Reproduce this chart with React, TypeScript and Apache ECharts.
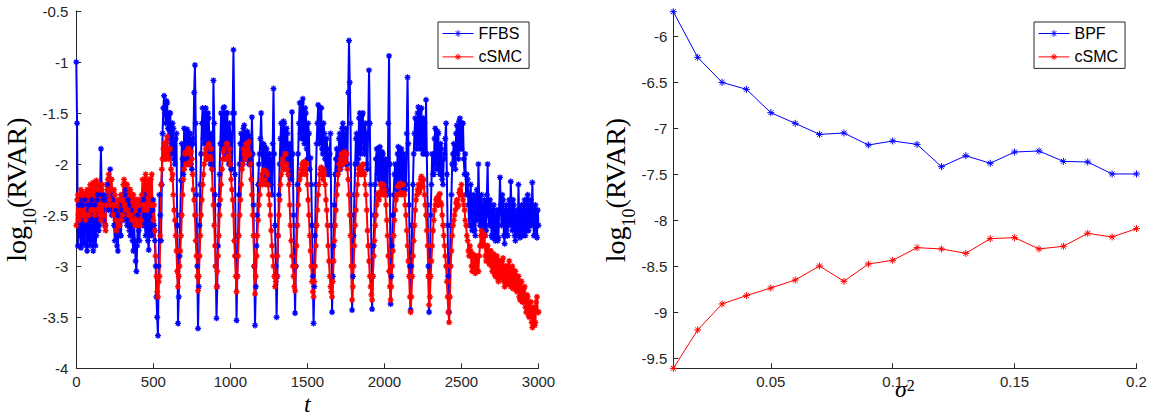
import React, { useEffect, useRef } from "react";
import * as echarts from "echarts";

// ---------- Left panel: log10(RVAR) over time t ----------
// values at t = 0, 10, 20, ..., 3000
const T_STEP = 10;
const ffbs = [
  -1.0, -2.8, -2.35, -2.82, -2.4, -2.75, -2.3, -2.85, -2.45, -2.8,
  -2.35, -2.85, -2.4, -2.7, -2.3, -2.6, -1.85, -2.55, -2.3, -2.6,
  -2.2, -2.45, -2.05, -2.5, -2.3, -2.75, -2.5, -2.85, -2.4, -2.7,
  -2.3, -2.55, -2.25, -2.6, -2.4, -2.7, -2.5, -2.85, -2.75, -3.05,
  -2.5, -2.75, -2.35, -2.6, -2.3, -2.7, -2.45, -2.84, -2.4, -2.7,
  -2.35, -2.75, -3.3, -3.68, -2.3, -2.75, -1.7, -1.33, -1.6, -1.4,
  -1.75, -1.5, -1.9, -1.65, -2.0, -1.7, -3.56, -2.9, -2.16, -1.95,
  -1.65, -1.95, -1.66, -2.0, -1.7, -2.05, -1.8, -1.03, -2.3, -3.61,
  -2.6, -1.9, -1.45, -1.8, -1.45, -1.85, -1.55, -2.0, -1.75, -1.18,
  -2.3, -3.51, -2.8, -2.1, -1.5, -1.85, -1.44, -1.9, -1.5, -2.0,
  -1.7, -2.05, -0.88, -2.1, -3.53, -2.7, -2.0, -1.7, -2.0, -1.62,
  -1.95, -1.68, -2.0, -1.75, -1.54, -2.4, -3.58, -2.8, -2.2, -1.9,
  -1.5, -2.1, -1.82, -2.15, -1.9, -2.2, -1.95, -2.3, -1.26, -2.6,
  -3.5, -2.7, -2.0, -1.6, -1.95, -1.6, -1.95, -1.7, -2.1, -1.9,
  -1.49, -2.5, -3.46, -2.6, -1.9, -1.4, -1.75, -1.36, -1.8, -1.5,
  -1.95, -1.7, -1.94, -2.6, -3.56, -2.7, -1.8, -1.42, -1.8, -1.45,
  -1.9, -1.7, -2.05, -1.85, -2.1, -1.7, -3.45, -2.8, -2.1, -1.85,
  -2.05, -1.7, -2.0, -1.6, -1.95, -1.65, -2.0, -0.79, -1.6, -3.43,
  -2.7, -2.0, -1.7, -1.95, -1.5, -1.85, -1.5, -1.9, -1.7, -2.05,
  -1.08, -2.2, -3.42, -2.8, -2.2, -1.85, -2.15, -1.83, -2.2, -1.9,
  -2.25, -2.0, -2.3, -0.94, -3.37, -2.8, -2.3, -2.0, -2.25, -1.83,
  -2.2, -1.85, -2.25, -1.95, -2.2, -1.15, -2.4, -3.43, -2.6, -1.9,
  -1.55, -1.85, -1.44, -1.85, -1.45, -1.9, -1.6, -1.37, -2.4, -3.45,
  -2.5, -1.9, -2.1, -1.65, -2.05, -1.7, -2.1, -1.85, -2.2, -1.9,
  -1.6, -2.6, -3.45, -2.6, -2.0, -1.8, -2.05, -1.62, -1.95, -1.55,
  -1.85, -1.6, -2.1, -2.3, -2.15, -2.6, -2.2, -2.65, -2.3, -2.7,
  -2.25, -2.0, -2.6, -2.3, -2.7, -2.35, -2.65, -2.0, -2.6, -2.4,
  -2.72, -2.4, -2.75, -2.45, -2.72, -2.13, -2.6, -2.35, -2.78, -2.4,
  -2.7, -2.35, -2.17, -2.65, -2.4, -2.75, -2.45, -2.2, -2.72, -2.4,
  -2.7, -2.35, -2.65, -2.3, -2.6, -2.35, -2.18, -2.7, -2.4, -2.72,
  -2.6,
];
// values at t = 5, 15, 25, ..., 2995
const ffbsMid = [
  -1.6, -2.4, -2.7, -2.4, -2.78, -2.35, -2.8, -2.4, -2.75, -2.4,
  -2.75, -2.45, -2.8, -2.35, -2.65, -2.2, -2.3, -2.35, -2.6, -2.35,
  -2.4, -2.15, -2.4, -2.35, -2.6, -2.45, -2.8, -2.5, -2.7, -2.45,
  -2.5, -2.3, -2.5, -2.35, -2.65, -2.45, -2.75, -2.6, -2.95, -2.8,
  -2.65, -2.45, -2.55, -2.35, -2.6, -2.5, -2.75, -2.5, -2.65, -2.45,
  -2.6, -3.0, -3.5, -3.0, -2.5, -2.2, -1.45, -1.5, -1.38, -1.65,
  -1.5, -1.8, -1.6, -1.95, -1.75, -2.6, -3.3, -2.5, -1.8, -2.1,
  -1.9, -1.7, -1.95, -1.7, -2.0, -1.75, -1.3, -1.6, -3.0, -3.2,
  -2.2, -1.6, -1.75, -1.5, -1.8, -1.5, -1.9, -1.7, -2.05, -1.6,
  -3.0, -3.2, -2.4, -1.8, -1.8, -1.45, -1.85, -1.5, -1.95, -1.6,
  -2.05, -1.5, -1.5, -2.9, -3.1, -2.3, -1.8, -1.95, -1.65, -1.95,
  -1.7, -1.95, -1.72, -2.0, -1.9, -3.0, -3.2, -2.5, -2.0, -1.75,
  -1.9, -1.8, -2.1, -1.85, -2.15, -1.9, -2.2, -1.8, -1.9, -3.0,
  -3.1, -2.3, -1.75, -1.9, -1.58, -1.9, -1.65, -2.05, -1.8, -2.15,
  -1.9, -3.0, -3.0, -2.2, -1.6, -1.7, -1.4, -1.75, -1.45, -1.85,
  -1.6, -2.05, -2.2, -3.1, -3.2, -2.2, -1.6, -1.75, -1.45, -1.85,
  -1.6, -1.95, -1.75, -2.1, -1.9, -2.6, -3.1, -2.4, -1.95, -2.1,
  -1.75, -2.05, -1.65, -2.0, -1.7, -2.0, -1.3, -1.2, -2.5, -3.1,
  -2.3, -1.75, -2.0, -1.55, -1.9, -1.52, -1.85, -1.6, -2.0, -1.6,
  -1.6, -2.8, -3.1, -2.5, -1.95, -2.1, -1.85, -2.15, -1.88, -2.2,
  -1.95, -2.25, -1.6, -2.0, -3.1, -2.5, -2.1, -2.2, -1.9, -2.2,
  -1.87, -2.2, -1.9, -2.25, -1.7, -1.8, -3.0, -3.0, -2.2, -1.7,
  -1.8, -1.5, -1.8, -1.46, -1.85, -1.55, -1.9, -1.9, -3.0, -3.1,
  -2.2, -2.1, -1.75, -2.0, -1.68, -2.05, -1.8, -2.15, -1.95, -1.75,
  -2.1, -3.1, -3.0, -2.3, -1.9, -2.0, -1.7, -1.9, -1.58, -1.85,
  -1.6, -1.95, -1.9, -2.1, -2.4, -2.3, -2.6, -2.35, -2.65, -2.35,
  -2.55, -2.35, -2.4, -2.65, -2.4, -2.7, -2.3, -2.5, -2.35, -2.7,
  -2.45, -2.7, -2.5, -2.75, -2.45, -2.4, -2.3, -2.7, -2.45, -2.7,
  -2.45, -2.6, -2.45, -2.35, -2.7, -2.5, -2.7, -2.55, -2.45, -2.7,
  -2.4, -2.7, -2.35, -2.65, -2.4, -2.6, -2.5, -2.45, -2.7, -2.45,
];
// values at t = 0, 10, ..., 3000
const csmcTime = [
  -2.6, -2.3, -2.55, -2.25, -2.5, -2.3, -2.55, -2.25, -2.5, -2.2,
  -2.45, -2.18, -2.5, -2.16, -2.45, -2.2, -2.55, -2.2, -2.5, -2.65,
  -2.25, -2.1, -2.4, -2.15, -2.5, -2.3, -2.65, -2.35, -2.6, -2.3,
  -2.5, -2.15, -2.45, -2.2, -2.5, -2.25, -2.55, -2.3, -2.6, -2.35,
  -2.6, -2.4, -2.55, -2.15, -2.45, -2.1, -2.45, -2.15, -2.4, -2.1,
  -2.55, -2.65, -3.1, -3.3, -3.1, -2.2, -1.95, -1.8, -1.95, -1.73,
  -1.95, -1.85, -2.15, -2.3, -2.55, -2.85, -3.2, -3.0, -2.7, -2.3,
  -2.05, -1.88, -2.0, -1.85, -2.0, -1.95, -2.25, -2.5, -2.9, -3.24,
  -2.9, -2.5, -2.2, -2.0, -1.85, -1.95, -1.8, -1.95, -2.05, -2.4,
  -2.8, -3.2, -2.9, -2.5, -2.2, -1.95, -1.85, -1.95, -1.8, -1.95,
  -2.0, -2.25, -2.5, -2.9, -3.25, -2.9, -2.5, -2.2, -2.0, -1.9,
  -1.8, -1.92, -1.78, -2.0, -2.3, -2.7, -3.27, -2.9, -2.55, -2.3,
  -2.15, -2.2, -2.06, -2.2, -2.1, -2.3, -2.5, -2.8, -3.0, -3.2,
  -3.1, -2.7, -2.35, -2.1, -1.95, -2.05, -1.9, -2.05, -2.2, -2.6,
  -2.9, -3.1, -3.24, -2.8, -2.4, -2.15, -2.05, -2.1, -1.98, -2.1,
  -2.2, -2.5, -2.85, -3.15, -3.3, -3.0, -2.6, -2.3, -2.1, -2.03,
  -2.15, -2.1, -2.35, -2.6, -2.95, -3.2, -3.3, -2.95, -2.6, -2.3,
  -2.1, -2.05, -1.9, -2.0, -1.88, -1.98, -2.05, -2.3, -2.7, -3.33,
  -3.0, -2.6, -2.3, -2.1, -2.03, -2.1, -2.0, -2.1, -2.3, -2.65,
  -2.95, -3.2, -3.33, -2.9, -2.6, -2.4, -2.28, -2.3, -2.19, -2.3,
  -2.25, -2.4, -2.7, -3.05, -3.33, -3.0, -2.7, -2.45, -2.3, -2.3,
  -2.19, -2.3, -2.2, -2.3, -2.5, -2.8, -3.1, -3.45, -3.1, -2.75,
  -2.45, -2.3, -2.2, -2.25, -2.12, -2.22, -2.3, -2.5, -2.8, -3.38,
  -3.1, -2.8, -2.55, -2.4, -2.33, -2.4, -2.29, -2.4, -2.6, -2.8,
  -3.0, -3.3, -3.55, -3.0, -2.7, -2.55, -2.45, -2.35, -2.4, -2.25,
  -2.2, -2.35, -2.45, -2.6, -2.75, -2.9, -2.85, -3.05, -2.9, -3.07,
  -2.9, -3.05, -2.8, -2.65, -2.8, -2.7, -2.95, -2.8, -2.98, -2.85,
  -3.05, -2.88, -3.1, -2.9, -3.15, -2.95, -3.1, -2.92, -3.2, -3.0,
  -3.15, -2.95, -3.2, -3.0, -3.2, -3.05, -3.25, -3.1, -3.33, -3.15,
  -3.35, -3.2, -3.45, -3.3, -3.5, -3.35, -3.6, -3.4, -3.55, -3.3,
  -3.45,
];
// values at t = 5, 15, ..., 2995
const csmcTimeMid = [
  -2.35, -2.5, -2.3, -2.5, -2.28, -2.5, -2.3, -2.5, -2.25, -2.45,
  -2.2, -2.45, -2.2, -2.45, -2.2, -2.5, -2.25, -2.5, -2.6, -2.4,
  -2.15, -2.35, -2.15, -2.4, -2.25, -2.55, -2.4, -2.6, -2.35, -2.55,
  -2.2, -2.4, -2.2, -2.45, -2.25, -2.5, -2.3, -2.55, -2.35, -2.55,
  -2.35, -2.6, -2.3, -2.4, -2.15, -2.4, -2.2, -2.4, -2.15, -2.4,
  -2.4, -2.9, -3.25, -3.15, -2.7, -2.05, -1.85, -1.95, -1.78, -1.9,
  -1.85, -2.05, -2.1, -2.45, -2.7, -3.05, -3.1, -2.85, -2.5, -2.15,
  -1.9, -2.0, -1.85, -1.98, -1.88, -2.1, -2.35, -2.75, -3.1, -3.1,
  -2.7, -2.35, -2.1, -1.9, -1.95, -1.82, -1.92, -1.85, -2.25, -2.6,
  -3.0, -3.05, -2.7, -2.35, -2.05, -1.88, -1.95, -1.8, -1.92, -1.85,
  -2.15, -2.35, -2.75, -3.1, -3.1, -2.7, -2.35, -2.05, -1.85, -1.95,
  -1.9, -1.8, -1.9, -2.15, -2.5, -3.0, -3.1, -2.7, -2.4, -2.2,
  -2.1, -2.06, -2.15, -2.08, -2.2, -2.4, -2.65, -2.9, -3.1, -3.15,
  -2.9, -2.5, -2.2, -2.0, -2.05, -1.9, -2.0, -2.1, -2.4, -2.75,
  -3.0, -3.2, -3.0, -2.6, -2.25, -2.1, -2.0, -1.98, -2.05, -2.0,
  -2.35, -2.7, -3.0, -3.25, -3.15, -2.8, -2.45, -2.2, -2.05, -2.1,
  -2.05, -2.2, -2.45, -2.8, -3.1, -3.25, -3.15, -2.75, -2.45, -2.2,
  -2.0, -1.95, -2.0, -1.9, -1.95, -1.9, -2.15, -2.5, -3.0, -3.2,
  -2.8, -2.45, -2.2, -2.05, -2.1, -2.02, -2.08, -2.2, -2.45, -2.8,
  -3.1, -3.28, -3.1, -2.75, -2.5, -2.3, -2.35, -2.2, -2.28, -2.2,
  -2.3, -2.55, -2.9, -3.2, -3.2, -2.85, -2.55, -2.35, -2.22, -2.2,
  -2.28, -2.2, -2.28, -2.4, -2.65, -2.95, -3.3, -3.3, -2.9, -2.6,
  -2.35, -2.25, -2.28, -2.15, -2.2, -2.15, -2.4, -2.65, -3.1, -3.3,
  -2.95, -2.65, -2.45, -2.35, -2.4, -2.3, -2.38, -2.5, -2.7, -2.9,
  -3.15, -3.45, -3.3, -2.85, -2.6, -2.5, -2.38, -2.42, -2.28, -2.3,
  -2.3, -2.4, -2.55, -2.7, -2.85, -2.8, -3.0, -2.88, -3.05, -2.9,
  -3.05, -2.9, -2.7, -2.8, -2.68, -2.9, -2.8, -2.95, -2.85, -3.0,
  -2.9, -3.08, -2.92, -3.12, -2.95, -3.12, -2.95, -3.15, -3.0, -3.18,
  -3.0, -3.18, -3.02, -3.22, -3.05, -3.22, -3.1, -3.3, -3.15, -3.35,
  -3.22, -3.4, -3.28, -3.48, -3.35, -3.55, -3.42, -3.58, -3.35, -3.45,
];

// ---------- Right panel: log10(RVAR) vs sigma^2 ----------
const sigma2 = [
  0.01, 0.02, 0.03, 0.04, 0.05, 0.06, 0.07, 0.08, 0.09, 0.1,
  0.11, 0.12, 0.13, 0.14, 0.15, 0.16, 0.17, 0.18, 0.19, 0.2,
];
const bpf = [
  -5.728, -6.225, -6.497, -6.573, -6.827, -6.943, -7.063, -7.048, -7.179, -7.135,
  -7.172, -7.415, -7.295, -7.378, -7.255, -7.244, -7.357, -7.364, -7.494, -7.494,
];
const csmcSigma = [
  -9.609, -9.192, -8.909, -8.818, -8.735, -8.648, -8.495, -8.662, -8.474, -8.434,
  -8.296, -8.31, -8.358, -8.198, -8.187, -8.31, -8.281, -8.14, -8.18, -8.089,
];
const rightXTicks = [0.05, 0.1, 0.15, 0.2];
const rightYTicks = [-9.5, -9, -8.5, -8, -7.5, -7, -6.5, -6];

const BLUE = "#0000ff";
const RED = "#ff0000";
const AX = "#262626";
const STAR = "path://M0 5L10 5M5 0L5 10M1.5 1.5L8.5 8.5M8.5 1.5L1.5 8.5";

const fmt = (v: number) => String(+Number(v).toFixed(3));

// merge the on-grid samples and the half-step samples into one time-ordered list
const merge = (main: number[], mid: number[]) => {
  const out: number[][] = [];
  main.forEach((v, i) => {
    out.push([i * T_STEP, v]);
    if (i < mid.length) out.push([i * T_STEP + T_STEP / 2, mid[i]]);
  });
  return out;
};

const yName = "{m|log}{s|10}{m|(RVAR)}";
const yNameStyle = {
  color: "#000",
  fontFamily: "Liberation Serif",
  fontSize: 28,
  rich: {
    m: { fontFamily: "Liberation Serif", fontSize: 28, lineHeight: 32, verticalAlign: "top", color: "#000" },
    s: { fontFamily: "Liberation Serif", fontSize: 18, lineHeight: 18, padding: [18, 0, 0, 0], verticalAlign: "top", color: "#000" },
  },
};

const axisCommon = {
  axisLine: { show: true, onZero: false, lineStyle: { color: AX, width: 1 } },
  axisTick: { show: true, inside: true, length: 5, lineStyle: { color: AX, width: 1 } },
  splitLine: { show: false },
};
const labelCommon = { color: AX, fontFamily: "Liberation Sans", fontSize: 15 };

const lineSeries = (
  name: string, color: string, data: number[][], xi: number,
  size: number, width: number, border: number, clip: boolean
) => ({
  type: "line",
  name,
  xAxisIndex: xi,
  yAxisIndex: xi,
  data,
  symbol: STAR,
  symbolSize: size,
  showAllSymbol: true,
  clip,
  lineStyle: { color, width },
  itemStyle: { color, borderColor: color, borderWidth: border },
  emphasis: { disabled: true },
  silent: true,
});

const legendCommon = {
  orient: "vertical",
  itemWidth: 31,
  itemHeight: 8,
  itemGap: 7.4,
  padding: [3.5, 7, 3.5, 4],
  borderColor: AX,
  borderWidth: 1,
  backgroundColor: "#fff",
  selectedMode: false,
  textStyle: { fontFamily: "Liberation Sans", fontSize: 16, color: "#000" },
  itemStyle: { borderWidth: 1 },
  lineStyle: { width: 1 },
};

export default function App() {
  const ref = useRef<HTMLDivElement>(null);
  useEffect(() => {
    if (!ref.current) return;
    const chart = echarts.init(ref.current, undefined, { renderer: "svg" });
    const leftF = merge(ffbs, ffbsMid);
    const leftC = merge(csmcTime, csmcTimeMid);
    const rightB = sigma2.map((x, i) => [x, bpf[i]]);
    const rightC = sigma2.map((x, i) => [x, csmcSigma[i]]);
    chart.setOption({
      animation: false,
      backgroundColor: "#fff",
      grid: [
        { left: 76.3, top: 11, width: 462.2, height: 357.3, outerBoundsMode: "none", containLabel: false },
        { left: 673.3, top: 11.7, width: 463.2, height: 356.6, outerBoundsMode: "none", containLabel: false },
      ],
      xAxis: [
        {
          gridIndex: 0, type: "value", min: 0, max: 3000, interval: 500,
          ...axisCommon,
          axisLabel: { ...labelCommon, margin: 6, formatter: fmt },
          name: "t", nameLocation: "middle", nameGap: 23.7, nameMoveOverlap: false,
          nameTextStyle: { fontFamily: "Liberation Serif", fontStyle: "italic", fontSize: 24, lineHeight: 24, color: "#000" },
        },
        {
          gridIndex: 1, type: "value", min: 0.01, max: 0.2,
          ...axisCommon,
          axisTick: { ...axisCommon.axisTick, customValues: rightXTicks },
          axisLabel: { ...labelCommon, margin: 6, customValues: rightXTicks, formatter: fmt },
          name: "{i|σ}{p|2}", nameLocation: "middle", nameGap: 9, nameMoveOverlap: false,
          nameTextStyle: {
            color: "#000",
            rich: {
              i: { fontFamily: "Liberation Serif", fontStyle: "italic", fontSize: 24, lineHeight: 28, verticalAlign: "top", color: "#000" },
              p: { fontFamily: "Liberation Serif", fontSize: 16, lineHeight: 16, verticalAlign: "top", color: "#000" },
            },
          },
        },
      ],
      yAxis: [
        {
          gridIndex: 0, type: "value", min: -4, max: -0.5, interval: 0.5,
          ...axisCommon,
          axisLabel: { ...labelCommon, margin: 8, formatter: fmt },
          name: yName, nameLocation: "middle", nameGap: 35, nameRotate: 90,
          nameTextStyle: yNameStyle,
        },
        {
          gridIndex: 1, type: "value", min: -9.609, max: -5.728,
          ...axisCommon,
          axisTick: { ...axisCommon.axisTick, customValues: rightYTicks },
          axisLabel: { ...labelCommon, margin: 6, customValues: rightYTicks, formatter: fmt },
          name: yName, nameLocation: "middle", nameGap: 35, nameRotate: 90,
          nameTextStyle: yNameStyle,
        },
      ],
      legend: [
        { ...legendCommon, data: ["FFBS", "cSMC"], left: 438, top: 22 },
        { ...legendCommon, data: ["BPF", "cSMC"], left: 1034, top: 22 },
      ],
      series: [
        lineSeries("FFBS", BLUE, leftF, 0, 6, 2, 1.3, true),
        lineSeries("cSMC", RED, leftC, 0, 6, 2, 1.3, true),
        lineSeries("BPF", BLUE, rightB, 1, 7, 1, 1, false),
        lineSeries("cSMC", RED, rightC, 1, 7, 1, 1, false),
      ],
    });
    return () => chart.dispose();
  }, []);
  return (
    <div
      ref={ref}
      style={{ position: "fixed", left: 0, top: 0, width: 1151, height: 418, background: "#fff" }}
    />
  );
}
